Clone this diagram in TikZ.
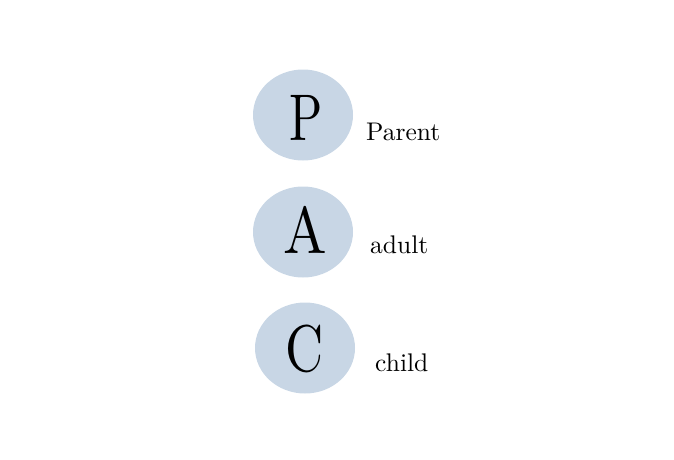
\documentclass[tikz,border=0pt]{standalone}
\usepackage{fontspec}
\usetikzlibrary{shapes.geometric}
\newfontfamily\lmten{lmroman10-regular.otf}
\definecolor{bubblefill}{RGB}{200,214,229}
\newcommand{\bigletter}[2]{\scalebox{#1}[1]{#2}}
\tikzset{
  bubble/.style={ellipse, fill=bubblefill, minimum width=100pt, minimum height=91pt, inner sep=0pt},
  letter/.style={anchor=base, inner sep=0pt, font=\lmten\fontsize{66}{66}\selectfont},
  lbl/.style={anchor=base west, inner sep=0pt, font=\lmten\fontsize{25.5}{26}\selectfont}
}
\begin{document}
\begin{tikzpicture}[x=1pt,y=-1pt]
	\useasboundingbox (0,0) rectangle (674,460);
	\node[bubble] (P) at (303,115) {};
	\node[bubble] (A) at (303,232) {};
	\node[bubble] (C) at (305,348) {};
	\node[letter] (Pl) at (306.5,140) {\bigletter{0.74}{P}};
	\node[letter] (Al) at (305.5,253) {\bigletter{0.88}{A}};
	\node[letter] (Cl) at (305,371) {\bigletter{0.8}{C}};
	\node[lbl] (parent) at (366,140) {Parent};
	\node[lbl] (adult) at (370,253) {adult};
	\node[lbl] (child) at (375,371) {child};
\end{tikzpicture}
\end{document}
